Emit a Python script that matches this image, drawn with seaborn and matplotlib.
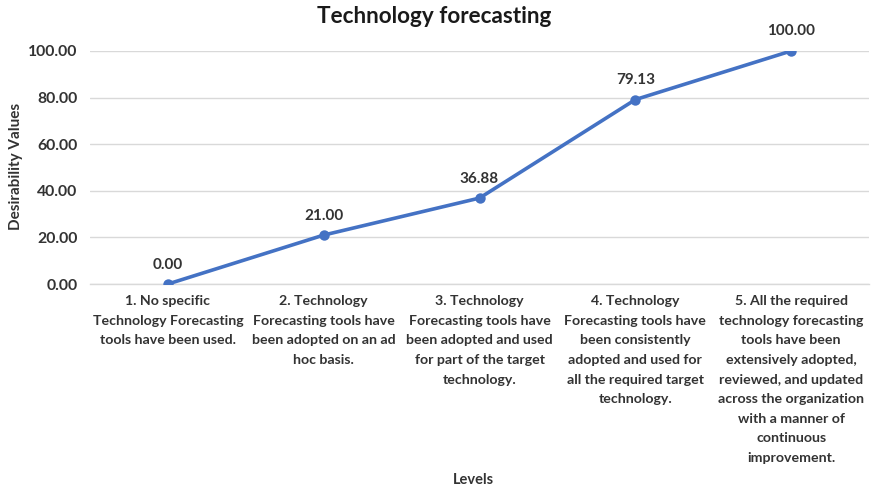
import matplotlib
matplotlib.use("Agg")
import matplotlib.pyplot as plt
import seaborn as sns
import pandas as pd

categories = [
    "1. No specific\nTechnology Forecasting\ntools have been used.",
    "2. Technology\nForecasting tools have\nbeen adopted on an ad\nhoc basis.",
    "3. Technology\nForecasting tools have\nbeen adopted and used\nfor part of the target\ntechnology.",
    "4. Technology\nForecasting tools have\nbeen consistently\nadopted and used for\nall the required target\ntechnology.",
    "5. All the required\ntechnology forecasting\ntools have been\nextensively adopted,\nreviewed, and updated\nacross the organization\nwith a manner of\ncontinuous\nimprovement.",
]
values = [0.00, 21.00, 36.88, 79.13, 100.00]
yticks = [0, 20, 40, 60, 80, 100]

sns.set_theme(style="white")
plt.rcParams["font.family"] = ["Lato", "DejaVu Sans"]
plt.rcParams["font.weight"] = "bold"

df = pd.DataFrame({"pos": range(len(categories)), "value": values})

fig = plt.figure(figsize=(8.72, 4.93), dpi=100)
ax = fig.add_axes([0.1032, 0.4239, 0.8934, 0.4727])

color = "#4472C4"
sns.lineplot(data=df, x="pos", y="value", ax=ax, color=color, linewidth=2.6,
             marker="o", markersize=7.5, markeredgewidth=0, zorder=3)

for x, v in zip(df["pos"], values):
    ax.annotate(f"{v:.2f}", (x, v), xytext=(0, 9), textcoords="offset points",
                ha="center", va="bottom", fontsize=11, fontweight="bold", color="#333333")

ax.set_xlim(-0.5, len(categories) - 0.5)
ax.set_ylim(0, 100)
ax.set_yticks(yticks)
ax.set_yticklabels([f"{t:.2f}" for t in yticks], fontsize=11.3, fontweight="bold", color="#333333")
ax.set_xticks(range(len(categories)))
ax.set_xticklabels(categories, fontsize=10.2, fontweight="bold", color="#333333",
                   linespacing=1.76, va="top")
ax.tick_params(axis="both", length=0)
ax.tick_params(axis="x", pad=8)
ax.tick_params(axis="y", pad=9)

ax.grid(axis="y", color="#D9D9D9", linewidth=1)
ax.set_axisbelow(True)
for s in ["top", "right", "left"]:
    ax.spines[s].set_visible(False)
ax.spines["bottom"].set_color("#D9D9D9")
ax.spines["bottom"].set_linewidth(1)

ax.set_xlabel("")
ax.set_ylabel("")
fig.text(0.018, 0.662, "Desirability Values", ha="center", va="center", rotation=90,
         fontsize=11, fontweight="bold", color="#333333")
fig.text(0.5425, 0.026, "Levels", ha="center", va="center", fontsize=10.5,
         fontweight="bold", color="#333333")
fig.text(0.498, 0.966, "Technology forecasting", ha="center", va="center",
         fontsize=16.2, fontweight="bold", color="#1a1a1a")

fig.savefig("out.png", dpi=100)
